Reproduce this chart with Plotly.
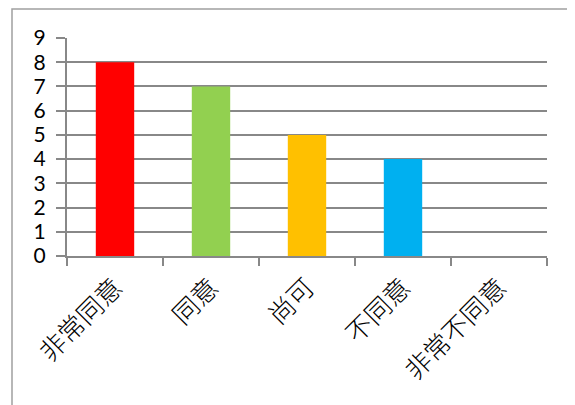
import plotly.graph_objects as go

categories = ["非常同意", "同意", "尚可", "不同意", "非常不同意"]
values = [8, 7, 5, 4, 0]
colors = ["#FF0000", "#92D050", "#FFC000", "#00B0F0", "#7030A0"]
y_ticks = [0, 1, 2, 3, 4, 5, 6, 7, 8, 9]

W, H = 575, 405
# page body adds an 8px offset; margins compensate for it
L, R, T, B = 59, 36, 30, 157
pw, ph = W - L - R, H - T - B

fig = go.Figure(go.Bar(
    x=categories, y=values,
    marker=dict(color=colors, line=dict(width=0)),
    showlegend=False,
))

# outer chart border (extends beyond the visible window on right/bottom)
bx, by = 4, 1
fig.add_shape(type="rect", xref="paper", yref="paper",
              x0=(bx - L) / pw, x1=(W + 20 - L) / pw,
              y0=-(H + 20 - (H - B)) / ph, y1=((H - B) - by) / ph,
              line=dict(color="#A0A0A0", width=1.5), fillcolor="rgba(0,0,0,0)",
              layer="below")

fig.update_layout(
    width=W, height=H,
    margin=dict(l=L, r=R, t=T, b=B, pad=0, autoexpand=False),
    paper_bgcolor="white", plot_bgcolor="white",
    bargap=0.6,
    xaxis=dict(
        automargin=False,
        showgrid=False, showline=True, linecolor="#888888", linewidth=2,
        ticks="outside", tickson="boundaries", ticklen=8, tickcolor="#888888", tickwidth=2,
        tickangle=-45,
        tickfont=dict(family="Noto Sans CJK TC", size=26, color="black", weight=300),
        ticklabelstandoff=4,
        range=[-0.5, 4.5],
    ),
    yaxis=dict(
        automargin=False,
        range=[0, 9], tickvals=y_ticks, ticktext=[str(v) for v in y_ticks],
        showgrid=True, gridcolor="#888888", gridwidth=2,
        showline=True, linecolor="#888888", linewidth=2,
        ticks="outside", ticklen=9, tickcolor="#888888", tickwidth=2,
        zeroline=False,
        tickfont=dict(family="Lato", size=21, color="black"),
        ticklabelstandoff=6,
    ),
)

fig.write_html("out.html")
